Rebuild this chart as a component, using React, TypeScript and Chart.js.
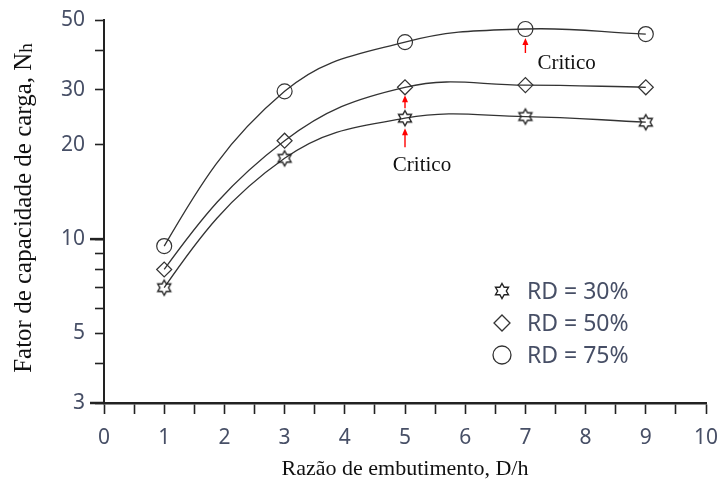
import React, { useEffect, useRef } from 'react';
import { Chart, registerables } from 'chart.js';

Chart.register(...registerables);

// ---- data ----
const xValues = [1, 3, 5, 7, 9];
const rd30 = [7.0, 18.1, 24.3, 24.6, 23.6];
const rd50 = [8.0, 20.6, 30.5, 31.0, 30.5];
const rd75 = [9.5, 29.6, 42.5, 46.8, 45.1];
const seriesLabels = ['RD = 30%', 'RD = 50%', 'RD = 75%'];
const yTickValues = [3, 4, 5, 6, 7, 8, 9, 10, 20, 30, 40, 50];
const yLabeledTicks = [3, 5, 10, 20, 30, 50];
const xTitle = 'Razão de embutimento, D/h';
const yTitleMain = 'Fator de capacidade de carga, N';
const yTitleSub = 'h';
const criticoText = 'Critico';
// critical point annotations (x values)
const criticoLowX = 5;
const criticoHighX = 7;

const LINE = '#333333';
const TICK_COLOR = '#474f66';
const SANS = '"Noto Sans", "Open Sans", sans-serif';
const SERIF = '"Liberation Serif", "DejaVu Serif", serif';

function makeStar(R: number): HTMLCanvasElement {
  const size = Math.ceil(R * 2 + 5);
  const c = document.createElement('canvas');
  c.width = size;
  c.height = size;
  const ctx = c.getContext('2d')!;
  const cx = size / 2;
  const cy = size / 2;
  const r = R / Math.sqrt(3);
  ctx.beginPath();
  for (let i = 0; i < 12; i++) {
    const ang = -Math.PI / 2 + (i * Math.PI) / 6;
    const rad = i % 2 === 0 ? R : r;
    const px = cx + rad * Math.cos(ang);
    const py = cy + rad * Math.sin(ang);
    if (i === 0) ctx.moveTo(px, py);
    else ctx.lineTo(px, py);
  }
  ctx.closePath();
  ctx.strokeStyle = '#222';
  ctx.lineWidth = 1.4;
  ctx.lineJoin = 'miter';
  ctx.stroke();
  return c;
}

function drawArrow(ctx: CanvasRenderingContext2D, x: number, yStart: number, yTip: number) {
  ctx.save();
  ctx.strokeStyle = '#ff0000';
  ctx.fillStyle = '#ff0000';
  ctx.lineWidth = 1.4;
  ctx.beginPath();
  ctx.moveTo(x, yStart);
  ctx.lineTo(x, yTip + 5);
  ctx.stroke();
  ctx.beginPath();
  ctx.moveTo(x, yTip);
  ctx.lineTo(x - 3, yTip + 7);
  ctx.lineTo(x + 3, yTip + 7);
  ctx.closePath();
  ctx.fill();
  ctx.restore();
}

export default function App() {
  const ref = useRef<HTMLCanvasElement>(null);

  useEffect(() => {
    const star = makeStar(7.5);
    const toPts = (arr: number[]) => xValues.map((x, i) => ({ x, y: arr[i] }));

    const base = {
      borderColor: LINE,
      borderWidth: 1.3,
      backgroundColor: 'rgba(0,0,0,0)',
      pointBorderColor: LINE,
      pointBackgroundColor: 'rgba(0,0,0,0)',
      pointBorderWidth: 1.2,
      tension: 0.4,
      fill: false,
    };

    const datasets: any[] = [
      { ...base, label: seriesLabels[0], data: toPts(rd30), pointStyle: star, pointRadius: 7.5 },
      { ...base, label: seriesLabels[1], data: toPts(rd50), pointStyle: 'rectRot', pointRadius: 7.5 },
      { ...base, label: seriesLabels[2], data: toPts(rd75), pointStyle: 'circle', pointRadius: 7.5 },
    ];

    // steeper start tangent for the smooth curves (quadratic through first 3 points)
    const curveShape = {
      id: 'curveShape',
      beforeDatasetDraw(chart: any, args: any) {
        const line = args.meta.dataset;
        if (!line) return;
        line.updateControlPoints(chart.chartArea, 'x');
        const pts = line.points;
        if (!pts || pts.length < 3) return;
        const p0 = pts[0];
        const p1 = pts[1];
        const p2 = pts[2];
        const b = (p1.y - p0.y) / (p1.x - p0.x);
        const c = ((p2.y - p1.y) / (p2.x - p1.x) - b) / (p2.x - p0.x);
        const slope0 = b + c * (p0.x - p1.x);
        const dx = (p1.x - p0.x) * 0.3;
        p0.cp2x = p0.x + dx;
        p0.cp2y = p0.y + slope0 * dx;
        line._path = undefined;
      },
    };

    const overlay = {
      id: 'overlay',
      afterDraw(chart: any) {
        const ctx: CanvasRenderingContext2D = chart.ctx;
        const xs = chart.scales.x;
        const ys = chart.scales.y;
        const area = chart.chartArea;

        // longer major ticks at 10 and 3
        ctx.save();
        ctx.strokeStyle = '#222';
        ctx.lineWidth = 2.5;
        [10, 3].forEach((v) => {
          const py = ys.getPixelForValue(v);
          ctx.beginPath();
          ctx.moveTo(area.left - 14, py);
          ctx.lineTo(area.left, py);
          ctx.stroke();
        });
        ctx.restore();

        // Critico annotations
        const iLow = xValues.indexOf(criticoLowX);
        const iHigh = xValues.indexOf(criticoHighX);
        const pxLow = xs.getPixelForValue(criticoLowX);
        const pyStar = ys.getPixelForValue(rd30[iLow]);
        const pyDiam = ys.getPixelForValue(rd50[iLow]);
        drawArrow(ctx, pxLow, pyStar + 29, pyStar + 10);
        drawArrow(ctx, pxLow, pyStar - 10, pyDiam + 8);
        const pxHigh = xs.getPixelForValue(criticoHighX);
        const pyCirc = ys.getPixelForValue(rd75[iHigh]);
        drawArrow(ctx, pxHigh, pyCirc + 24, pyCirc + 9);

        ctx.save();
        ctx.fillStyle = '#111';
        ctx.font = `21px ${SERIF}`;
        ctx.textBaseline = 'middle';
        ctx.textAlign = 'center';
        ctx.fillText(criticoText, pxLow + 17, pyStar + 47);
        ctx.textAlign = 'left';
        ctx.fillText(criticoText, pxHigh + 12, pyCirc + 34);
        ctx.restore();

        // legend
        const lx = area.right - 204;
        const rows = [area.bottom - 112, area.bottom - 80, area.bottom - 48];
        ctx.save();
        ctx.strokeStyle = LINE;
        ctx.lineWidth = 1.3;
        ctx.drawImage(star, Math.round(lx - star.width / 2), Math.round(rows[0] - star.height / 2));
        const d = 8;
        ctx.beginPath();
        ctx.moveTo(lx, rows[1] - d);
        ctx.lineTo(lx + d, rows[1]);
        ctx.lineTo(lx, rows[1] + d);
        ctx.lineTo(lx - d, rows[1]);
        ctx.closePath();
        ctx.stroke();
        ctx.beginPath();
        ctx.arc(lx, rows[2], 9, 0, Math.PI * 2);
        ctx.stroke();
        ctx.fillStyle = TICK_COLOR;
        ctx.font = `23px ${SANS}`;
        ctx.textBaseline = 'middle';
        ctx.textAlign = 'left';
        seriesLabels.forEach((t, i) => ctx.fillText(t, lx + 25, rows[i] + 1));
        ctx.restore();

        // axis titles
        ctx.save();
        ctx.fillStyle = '#111';
        ctx.font = `22px ${SERIF}`;
        ctx.textAlign = 'center';
        ctx.textBaseline = 'middle';
        ctx.fillText(xTitle, (area.left + area.right) / 2, 469);
        ctx.restore();

        ctx.save();
        ctx.fillStyle = '#111';
        ctx.translate(24, 208);
        ctx.rotate(-Math.PI / 2);
        ctx.font = `25px ${SERIF}`;
        const wMain = ctx.measureText(yTitleMain).width;
        ctx.font = `19px ${SERIF}`;
        const wSub = ctx.measureText(yTitleSub).width;
        const start = -(wMain + wSub) / 2;
        ctx.textBaseline = 'middle';
        ctx.textAlign = 'left';
        ctx.font = `25px ${SERIF}`;
        ctx.fillText(yTitleMain, start, 0);
        ctx.font = `19px ${SERIF}`;
        ctx.fillText(yTitleSub, start + wMain, 3);
        ctx.restore();
      },
    };

    const chart = new Chart(ref.current!, {
      type: 'line',
      data: { datasets },
      plugins: [curveShape, overlay],
      options: {
        responsive: false,
        animation: false,
        events: [],
        layout: { padding: { left: 0, top: 20, right: 12, bottom: 0 } },
        plugins: { legend: { display: false }, tooltip: { enabled: false } },
        scales: {
          x: {
            type: 'linear',
            min: 0,
            max: 10,
            afterFit: (s: any) => {
              s.height = 81;
              s.paddingLeft = 0;
              s.paddingRight = 0;
            },
            ticks: {
              stepSize: 0.5,
              autoSkip: false,
              maxRotation: 0,
              padding: 11,
              color: TICK_COLOR,
              font: { family: SANS, size: 21 },
              callback: (v: any) => (Number.isInteger(Number(v)) ? String(v) : ''),
            },
            grid: {
              drawOnChartArea: false,
              drawTicks: true,
              tickLength: 11,
              tickColor: '#222',
              tickWidth: 1.6,
            },
            border: { display: true, color: '#222', width: 2.5 },
          },
          y: {
            type: 'logarithmic',
            min: 3,
            max: 50,
            afterBuildTicks: (s: any) => {
              s.ticks = yTickValues.map((v) => ({ value: v }));
            },
            afterFit: (s: any) => {
              s.width = 104;
              s.paddingTop = 0;
              s.paddingBottom = 0;
            },
            ticks: {
              autoSkip: false,
              padding: 10,
              color: TICK_COLOR,
              font: { family: SANS, size: 21 },
              callback: (v: any) => (yLabeledTicks.includes(Number(v)) ? String(v) : ''),
            },
            grid: {
              drawOnChartArea: false,
              drawTicks: true,
              tickLength: 9,
              tickColor: '#222',
              tickWidth: 1.6,
            },
            border: { display: true, color: '#222', width: 2 },
          },
        },
      } as any,
    });

    return () => chart.destroy();
  }, []);

  return (
    <div style={{ position: 'absolute', left: 0, top: 0, width: 718, height: 484, background: '#fff' }}>
      <canvas ref={ref} width={718} height={484} />
    </div>
  );
}
